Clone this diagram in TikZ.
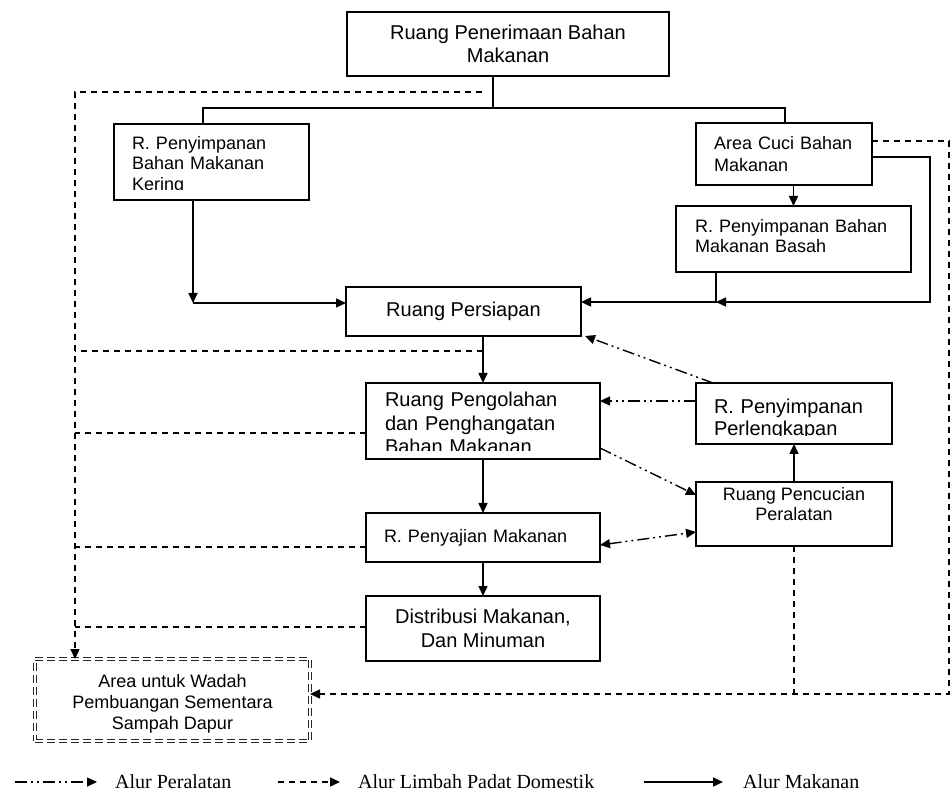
\documentclass[tikz,border=0pt]{standalone}
\usepackage{fontspec}
\setmainfont{Liberation Sans}
\newfontfamily\legfont{Liberation Serif}
\usetikzlibrary{arrows.meta}
\begin{document}
\begin{tikzpicture}[x=1pt,y=-1pt,
  box/.style={draw, line width=1.8pt, inner sep=0pt, outer sep=0pt, font=\fontsize{20}{23.5}\selectfont},
  sm/.style={font=\fontsize{18}{20.5}\selectfont},
  fa/.style={-{Triangle[length=10pt,width=9pt]}},
  food/.style={line width=1.5pt},
  waste/.style={line width=1.4pt, dash pattern=on 6pt off 5pt},
  eq/.style={line width=1.4pt, dash pattern=on 12pt off 4pt on 2pt off 4pt on 2pt off 4pt},
  leg/.style={font=\legfont\fontsize{20}{24}\selectfont, inner sep=0pt, anchor=west},
  cut/.style={fill=white}
]
\useasboundingbox[fill=white] (0,0) rectangle (951,799);

% boxes
\node[box, minimum width=322pt, minimum height=64pt, align=center] (pen) at (508,44) {Ruang Penerimaan Bahan\\Makanan};
\node[box, sm, minimum height=76pt, text width=159pt, inner xsep=18pt, align=left] (ker) at (211.5,162) {\rule{0pt}{19.3pt}R. Penyimpanan\\Bahan Makanan\\Kering};
\node[box, font=\fontsize{18}{21.5}\selectfont, minimum height=62pt, text width=140pt, inner xsep=18pt, align=left] (cuc) at (784,154) {Area Cuci Bahan\\Makanan};
\node[box, sm, minimum height=66pt, text width=197pt, inner xsep=19pt, align=left] (bas) at (793.5,239) {R. Penyimpanan Bahan\\Makanan Basah\\[-14.5pt]\mbox{}};
\node[box, minimum width=235pt, minimum height=49pt, align=center] (per) at (463.5,311.5) {Ruang Persiapan};
\node[box, minimum height=76pt, text width=196pt, inner xsep=19pt, align=left] (pgl) at (483,421) {\rule{0pt}{18.3pt}Ruang Pengolahan\\dan Penghangatan\\Bahan Makanan};
\node[box, font=\fontsize{20}{22}\selectfont, minimum height=61pt, text width=160pt, inner xsep=18pt, align=left] (plk) at (794,413.5) {\rule{0pt}{25.8pt}R. Penyimpanan\\Perlengkapan};
\node[box, sm, minimum width=196pt, minimum height=64pt, align=center] (pcc) at (794,514) {Ruang Pencucian\\Peralatan\\\mbox{}};
\node[box, sm, minimum height=49pt, text width=198pt, inner xsep=18pt, align=left] (saj) at (483,537.5) {R. Penyajian Makanan};
\node[box, minimum width=234pt, minimum height=65pt, align=center] (dis) at (483,628.5) {Distribusi Makanan,\\Dan Minuman};
\node[box, font=\fontsize{18}{21}\selectfont, draw=black!85, line width=0.9pt, double, double distance=2.4pt, dash pattern=on 8pt off 4pt,
      minimum width=275pt, minimum height=82pt, align=center] (sam) at (172.5,700) {\rule{0pt}{20.9pt}Area untuk Wadah\\Pembuangan Sementara\\Sampah Dapur};

% text cut off at the bottom of three boxes, as in the original
\fill[cut] (115,190) rectangle (308,198.9);
\fill[cut] (367,451.5) rectangle (599,458.1);
\fill[cut] (697,436.5) rectangle (891,443.1);

% coordinates
\coordinate (j1) at (493,108);
\coordinate (jL) at (203,108);
\coordinate (jR) at (785,108);
\coordinate (k1) at (193,303);
\coordinate (b1) at (716,302);
\coordinate (c2) at (930,157);
\coordinate (c3) at (930,302);
\coordinate (e1) at (700,401);
\coordinate (w0) at (482,92);
\coordinate (w1) at (75,92);
\coordinate (w2) at (75,351);
\coordinate (w3) at (75,433);
\coordinate (w4) at (75,547);
\coordinate (w5) at (75,627);
\coordinate (r1) at (949,141);
\coordinate (r2) at (949,694);

% food flow
\draw[food] (pen.south -| j1) -- (j1);
\draw[food] (jL |- ker.north) -- (jL) -- (jR) -- (jR |- cuc.north);
\draw[food,fa] (ker.south -| k1) -- (k1);
\draw[food,fa] (k1) -- (k1 -| per.west);
\draw[food,fa] (cuc.south -| bas.north) -- (bas.north);
\draw[food,fa] (bas.south -| b1) -- (b1) -- (b1 -| per.east);
\draw[food,fa] (cuc.east |- c2) -- (c2) -- (c3) -- (b1);
\draw[food,fa] (per.south -| pgl.north) -- (pgl.north);
\draw[food,fa] (pgl.south) -- (saj.north);
\draw[food,fa] (saj.south) -- (dis.north);
\draw[food,fa] (pcc.north) -- (plk.south);

% equipment flow
\draw[eq,fa] (plk.west |- e1) -- (pgl.east |- e1);
\draw[eq,fa] ([xshift=17pt]plk.north west) -- ([xshift=4pt]per.south east);
\draw[eq,fa] ([yshift=11pt]pgl.south east) -- ([yshift=-13pt]pcc.north west);
\draw[eq,{Triangle[length=10pt,width=9pt]}-{Triangle[length=10pt,width=9pt]}] ([yshift=-7.5pt]saj.east) -- ([yshift=-18pt]pcc.west);

% waste flow
\draw[waste,fa] (w0) -- (w1) -- (w1 |- sam.north);
\draw[waste] (pgl.north |- w2) -- (w2);
\draw[waste] (pgl.west |- w3) -- (w3);
\draw[waste] (saj.west |- w4) -- (w4);
\draw[waste] (dis.west |- w5) -- (w5);
\draw[waste,fa] (cuc.east |- r1) -- (r1) -- (r2) -- (r2 -| sam.east);
\draw[waste] (pcc.south) -- (pcc.south |- r2);

% legend
\coordinate (la1) at (15,782);
\coordinate (la2) at (97,782);
\coordinate (lb1) at (278,782);
\coordinate (lb2) at (340,782);
\coordinate (lc1) at (644,782);
\coordinate (lc2) at (723,782);
\draw[eq,fa] (la1) -- (la2);
\draw[waste,fa] (lb1) -- (lb2);
\draw[food,fa] (lc1) -- (lc2);
\node[leg] (lt1) at (115,782) {Alur Peralatan};
\node[leg] (lt2) at (358,782) {Alur Limbah Padat Domestik};
\node[leg] (lt3) at (743,782) {Alur Makanan};
\end{tikzpicture}
\end{document}
